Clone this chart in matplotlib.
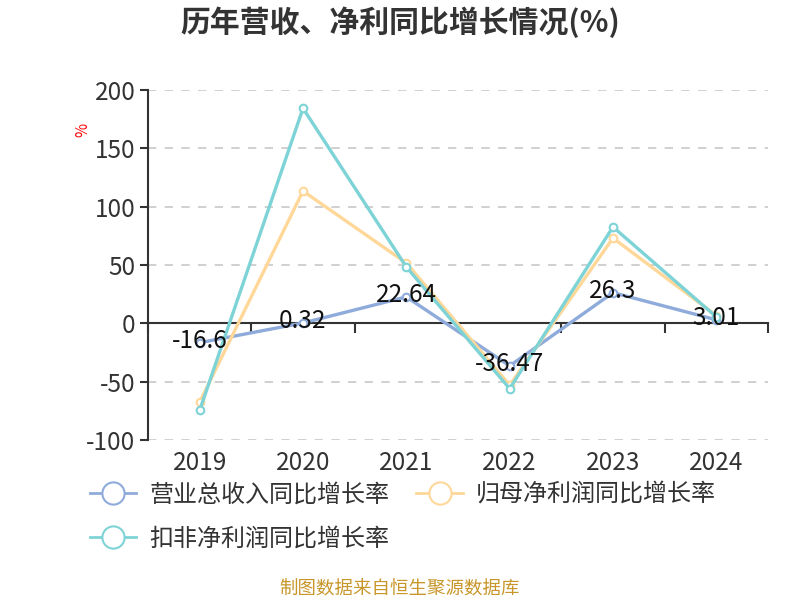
import numpy as np
import matplotlib
matplotlib.use("Agg")
import matplotlib.pyplot as plt
from matplotlib.lines import Line2D

plt.rcParams['font.family'] = ['Noto Sans CJK SC', 'DejaVu Sans']

years = ['2019', '2020', '2021', '2022', '2023', '2024']
revenue_growth = [-16.6, 0.32, 22.64, -36.47, 26.3, 3.01]
parent_np_growth = [-67.7, 113.4, 51.7, -53.1, 73.1, 6.6]
deducted_np_growth = [-74.6, 184.3, 48.3, -56.0, 82.6, 5.5]
series_names = ['营业总收入同比增长率', '归母净利润同比增长率', '扣非净利润同比增长率']
colors = ['#8EABDB', '#FFD899', '#7DD3D6']
yticks = [-100, -50, 0, 50, 100, 150, 200]

fig = plt.figure(figsize=(8, 6), dpi=100)
ax = fig.add_axes([0.185, 0.2667, 0.775, 0.5833])
x = np.arange(len(years))

for vals, c in zip([revenue_growth, parent_np_growth, deducted_np_growth], colors):
    ax.plot(x, vals, color=c, lw=2.4, marker='o', ms=5.5, mfc='white', mec=c, mew=1.5,
            zorder=3, clip_on=False)

for xi, v in zip(x, revenue_growth):
    ax.text(xi, v + 1.5, f'{v:g}', ha='center', va='center', fontsize=17.5,
            color='#111111', zorder=5)

ax.set_xlim(-0.5, len(years) - 0.5)
ax.set_ylim(-100, 200)
ax.set_yticks(yticks)
ax.set_yticklabels([str(t) for t in yticks], fontsize=17.5, color='#333333')
ax.grid(axis='y', color='#C8C8C8', ls=(0, (5, 5)), lw=1.2)
ax.tick_params(axis='y', length=6, width=1.5, color='#333333', pad=3)

for s in ['top', 'right']:
    ax.spines[s].set_visible(False)
ax.spines['left'].set_color('#333333')
ax.spines['left'].set_linewidth(1.5)
ax.spines['bottom'].set_position(('data', 0))
ax.spines['bottom'].set_color('#333333')
ax.spines['bottom'].set_linewidth(1.5)
ax.set_xticks(np.arange(-0.5, len(years), 1))
ax.set_xticklabels([])
ax.tick_params(axis='x', length=7, width=1.5, color='#333333')

sec = ax.secondary_xaxis('bottom')
sec.set_xticks(x)
sec.set_xticklabels(years, fontsize=17.5, color='#333333')
sec.tick_params(length=0, pad=7)
sec.spines['bottom'].set_visible(False)

ax.text(-0.105, 0.887, '%', transform=ax.transAxes, color='red', fontsize=11,
        rotation=90, ha='center', va='center')

fig.text(0.5, 0.963, '历年营收、净利同比增长情况(%)', ha='center', va='center',
         fontsize=21.5, fontweight='bold', color='#333333')

handles = [Line2D([], [], color=c, lw=2, marker='o', ms=16, mfc='white', mec=c, mew=1.5)
           for c in colors]
order = [0, 2, 1]
fig.legend([handles[i] for i in order], [series_names[i] for i in order],
           loc='upper left', bbox_to_anchor=(0.112, 0.198), ncol=2, frameon=False,
           fontsize=17.3, handlelength=1.95, handletextpad=0.55, columnspacing=1.1,
           labelspacing=0.75, labelcolor='#333333', borderpad=0, borderaxespad=0)

fig.text(0.5, 0.018, '制图数据来自恒生聚源数据库', ha='center', va='center',
         fontsize=13.3, color='#C8962A')

fig.savefig('out.png', dpi=100)
